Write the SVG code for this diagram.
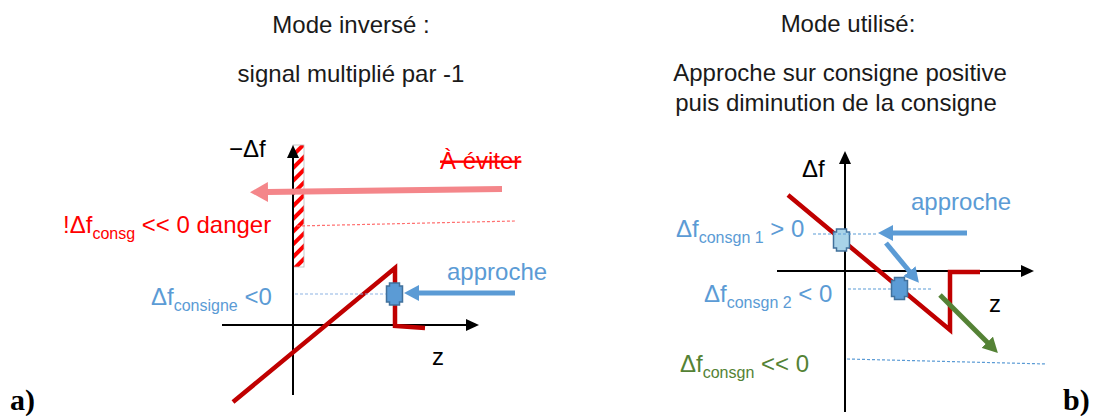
<svg xmlns="http://www.w3.org/2000/svg" width="1096" height="416" viewBox="0 0 1096 416">
<style>
text{font-family:"Liberation Sans",Arial,sans-serif;}
.t{font-size:24px;fill:#1a1a1a;text-anchor:middle;}
.lbl{font-size:24px;}
.sub{font-size:16px;}
.ax{stroke:#000;stroke-width:2;fill:none;}
.red{stroke:#c00000;stroke-width:4.5;fill:none;stroke-linejoin:miter;}
.dsh{stroke-width:1.2;stroke-dasharray:3 2;fill:none;}
.blk{stroke:#41719c;stroke-width:1.5;}
.num{font-family:"Liberation Serif","Times New Roman",serif;font-weight:bold;font-size:30px;fill:#000;}
</style>
<defs>
<marker id="ab" markerUnits="userSpaceOnUse" markerWidth="14" markerHeight="12" refX="1" refY="6" orient="auto"><path d="M0,0 L13,6 L0,12 Z" fill="#000"/></marker>
<marker id="ablue" markerUnits="userSpaceOnUse" markerWidth="16" markerHeight="16" refX="1" refY="8" orient="auto"><path d="M0,0 L15,8 L0,16 Z" fill="#5b9bd5"/></marker>
<marker id="apink" markerUnits="userSpaceOnUse" markerWidth="20" markerHeight="20" refX="1" refY="10" orient="auto"><path d="M0,0 L18,10 L0,20 Z" fill="#f4868a"/></marker>
<marker id="agreen" markerUnits="userSpaceOnUse" markerWidth="16" markerHeight="16" refX="1" refY="8" orient="auto"><path d="M0,0 L15,8 L0,16 Z" fill="#548235"/></marker>
<pattern id="hatch" patternUnits="userSpaceOnUse" width="9" height="9" patternTransform="rotate(-45)"><rect width="9" height="9" fill="#fff"/><rect width="9" height="4" fill="#ff0000"/></pattern>
<path id="blk" d="M-5,-11 H5 V-8 H8 V8 H5 V11 H-5 V8 H-8 V-8 H-5 Z"/>
</defs>

<g id="titles">
<text class="t" x="351" y="33">Mode inversé :</text>
<text class="t" x="351" y="82">signal multiplié par -1</text>
<text class="t" x="848" y="32">Mode utilisé:</text>
<text class="t" x="840" y="81">Approche sur consigne positive</text>
<text class="t" x="836" y="111">puis diminution de la consigne</text>
</g>

<g id="panel-a">
<g id="hatch-zone"><rect x="293" y="145" width="11" height="122" fill="url(#hatch)" stroke="#bbbbbb" stroke-width="0.8"/></g>
<g id="axes-a">
<line class="ax" x1="293" y1="395" x2="293" y2="157" marker-end="url(#ab)"/>
<line class="ax" x1="222" y1="325" x2="467" y2="325" marker-end="url(#ab)"/>
<text class="lbl" x="229" y="157" fill="#000">−Δf</text>
<text class="lbl" x="432" y="365" fill="#000">z</text>
</g>
<g id="curve-a"><polyline class="red" points="233,402 395,268 395,326 425,328"/></g>
<g id="danger-a">
<text class="lbl" x="440" y="169" fill="#ff0000" text-decoration="line-through">À éviter</text>
<text class="lbl" x="63" y="233" fill="#ff0000">!Δf<tspan class="sub" dy="6">consg</tspan><tspan dy="-6"> &lt;&lt; 0 danger</tspan></text>
</g>
<g id="consigne-a">
<text class="lbl" x="151" y="305" fill="#5b9bd5">Δf<tspan class="sub" dy="6">consigne</tspan><tspan dy="-6"> &lt;0</tspan></text>
<text class="lbl" x="447" y="280" fill="#5b9bd5">approche</text>
<use href="#blk" x="394.5" y="294" fill="#5b9bd5" class="blk"/>
</g>
<text class="num" x="10" y="410">a)</text>
</g>

<g id="panel-b">
<g id="axes-b">
<line class="ax" x1="845" y1="412" x2="845" y2="163" marker-end="url(#ab)"/>
<line class="ax" x1="777" y1="271" x2="1022" y2="271" marker-end="url(#ab)"/>
<text class="lbl" x="802" y="177" fill="#000">Δf</text>
<text class="lbl" x="989" y="312" fill="#000">z</text>
</g>
<g id="curve-b"><polyline class="red" points="788,195 950,330 950,272 980,272"/></g>
<g id="labels-b">
<text class="lbl" x="676" y="237" fill="#5b9bd5">Δf<tspan class="sub" dy="6">consgn 1</tspan><tspan dy="-6"> &gt; 0</tspan></text>
<text class="lbl" x="704" y="302" fill="#5b9bd5">Δf<tspan class="sub" dy="6">consgn 2</tspan><tspan dy="-6"> &lt; 0</tspan></text>
<text class="lbl" x="680" y="372" fill="#548235">Δf<tspan class="sub" dy="6">consgn</tspan><tspan dy="-6">  &lt;&lt; 0</tspan></text>
<text class="lbl" x="911" y="210" fill="#5b9bd5">approche</text>
</g>
<use href="#blk" x="841.5" y="240" fill="#a9d3e8" class="blk"/>
<use href="#blk" x="899.5" y="288.5" fill="#5b9bd5" class="blk"/>
<text class="num" x="1063" y="410">b)</text>
</g>

<g id="connectors">
<line x1="502" y1="189" x2="267" y2="192" stroke="#f4868a" stroke-width="6" marker-end="url(#apink)"/>
<line class="dsh" stroke="#ff7070" x1="297" y1="226" x2="515" y2="221"/>
<line class="dsh" stroke="#8eb4e3" x1="295" y1="294" x2="386" y2="294"/>
<line x1="515" y1="293" x2="418" y2="293" stroke="#5b9bd5" stroke-width="5" marker-end="url(#ablue)"/>
<line class="dsh" stroke="#5b9bd5" x1="813" y1="234" x2="878" y2="234"/>
<line x1="967" y1="233" x2="892" y2="233" stroke="#5b9bd5" stroke-width="5" marker-end="url(#ablue)"/>
<line x1="886" y1="243" x2="910" y2="272" stroke="#5b9bd5" stroke-width="5" marker-end="url(#ablue)"/>
<line class="dsh" stroke="#5b9bd5" x1="848" y1="289" x2="932" y2="289"/>
<line x1="940" y1="295" x2="988" y2="343" stroke="#548235" stroke-width="5" marker-end="url(#agreen)"/>
<line class="dsh" stroke="#5b9bd5" x1="847" y1="359" x2="1047" y2="364"/>
</g>
</svg>
